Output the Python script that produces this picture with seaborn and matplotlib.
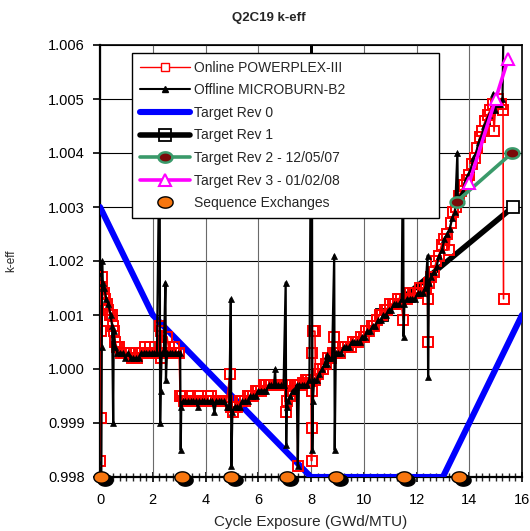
import numpy as np
import matplotlib
matplotlib.use("Agg")
import matplotlib.pyplot as plt
import matplotlib.transforms as mtransforms
from matplotlib.lines import Line2D
from matplotlib.ticker import MultipleLocator, FormatStrFormatter
import seaborn as sns

# ---------------- data ----------------
online_x = [0.00, 0.02, 0.04, 0.06, 0.08, 0.14, 0.20, 0.26, 0.32, 0.38, 0.44, 0.48, 0.52, 0.58, 0.64,
            0.72, 0.80, 0.90, 1.00, 1.10, 1.20, 1.30, 1.40, 1.50, 1.60, 1.70, 1.80, 1.90, 2.00, 2.10,
            2.20, 2.26, 2.30, 2.32, 2.38, 2.46, 2.54, 2.60, 2.70, 2.80, 2.90, 3.00, 3.04, 3.12, 3.20,
            3.30, 3.40, 3.50, 3.60, 3.70, 3.80, 3.90, 4.00, 4.10, 4.20, 4.30, 4.40, 4.50, 4.60, 4.70,
            4.80, 4.93, 4.96, 5.04, 5.12, 5.20, 5.30, 5.40, 5.50, 5.60, 5.70, 5.80, 5.90, 6.00, 6.10,
            6.20, 6.30, 6.40, 6.50, 6.60, 6.70, 6.80, 6.90, 7.00, 7.04, 7.10, 7.20, 7.30, 7.40, 7.48,
            7.50, 7.52, 7.60, 7.70, 7.80, 7.90, 8.00, 8.02, 8.03, 8.04, 8.05, 8.06, 8.15, 8.17, 8.25,
            8.35, 8.45, 8.55, 8.65, 8.75, 8.82, 8.86, 8.90, 9.00, 9.10, 9.20, 9.30, 9.40, 9.50, 9.60,
            9.70, 9.80, 9.90, 10.00, 10.10, 10.20, 10.30, 10.40, 10.50, 10.60, 10.70, 10.80, 10.90,
            11.00, 11.10, 11.20, 11.30, 11.40, 11.50, 11.55, 11.65, 11.75, 11.85, 11.95, 12.05, 12.15,
            12.25, 12.35, 12.42, 12.44, 12.46, 12.55, 12.65, 12.75, 12.85, 12.95, 13.05, 13.15, 13.23,
            13.30, 13.40, 13.50, 13.60, 13.70, 13.80, 13.90, 14.00, 14.10, 14.20, 14.30, 14.40, 14.50,
            14.60, 14.70, 14.80, 14.90, 14.94, 15.00, 15.10, 15.20, 15.28, 15.30]
online_y = [0.9983, 0.9991, 1.0007, 1.0017, 1.0015, 1.0014, 1.0013, 1.0012, 1.0011, 1.0010, 1.0010, 1.0008, 1.0007, 1.0005, 1.0004,
            1.0004, 1.0003, 1.0003, 1.0003, 1.0003, 1.0002, 1.0002, 1.0002, 1.0003, 1.0003, 1.0004, 1.0003, 1.0004, 1.0003, 1.0004,
            1.0003, 1.0008, 1.0007, 1.0002, 1.0003, 1.0004, 1.0006, 1.0004, 1.0003, 1.0004, 1.0003, 1.0003, 0.9995, 0.9995, 0.9994,
            0.9994, 0.9995, 0.9994, 0.9994, 0.9995, 0.9994, 0.9994, 0.9994, 0.9995, 0.9995, 0.9994, 0.9994, 0.9994, 0.9994, 0.9994,
            0.9994, 0.9999, 0.9993, 0.9992, 0.9993, 0.9993, 0.9994, 0.9994, 0.9994, 0.9995, 0.9995, 0.9995, 0.9996, 0.9996, 0.9996,
            0.9997, 0.9997, 0.9997, 0.9997, 0.9997, 0.9997, 0.9997, 0.9997, 0.9997, 0.9992, 0.9994, 0.9995, 0.9996, 0.9997, 0.9997,
            0.9982, 0.9997, 0.9997, 0.99975, 0.9998, 0.9998, 0.9998, 0.9983, 0.9989, 0.9996, 1.0003, 1.0007, 1.0007, 0.9998, 0.9999,
            1.0000, 1.0000, 1.0001, 1.0002, 1.0002, 1.0003, 1.0006, 1.0003, 1.0003, 1.0003, 1.0004, 1.0004, 1.0004, 1.0004, 1.0005,
            1.0005, 1.0005, 1.0006, 1.0006, 1.0007, 1.0007, 1.0008, 1.0008, 1.0009, 1.0010, 1.0010, 1.0011, 1.0011,
            1.0012, 1.0012, 1.0012, 1.0013, 1.0013, 1.0009, 1.0013, 1.0013, 1.0014, 1.0014, 1.0014, 1.0014, 1.0015,
            1.0015, 1.0015, 1.0013, 1.0005, 1.0016, 1.0017, 1.0018, 1.0020, 1.0021, 1.0023, 1.0024, 1.0025, 1.0022,
            1.0027, 1.0029, 1.0030, 1.0032, 1.0033, 1.0034, 1.0035, 1.0036, 1.0038, 1.0039, 1.0041, 1.0043, 1.0044,
            1.0046, 1.0047, 1.0048, 1.0049, 1.0044, 1.0049, 1.0050, 1.0049, 1.0048, 1.0013]

offline_x = [0.05, 0.07, 0.08, 0.10, 0.16, 0.24, 0.32, 0.40, 0.46, 0.50, 0.52, 0.58, 0.66, 0.76, 0.86,
             0.96, 1.06, 1.16, 1.26, 1.36, 1.46, 1.56, 1.66, 1.76, 1.86, 1.96, 2.06, 2.16, 2.26, 2.28,
             2.30, 2.34, 2.42, 2.48, 2.50, 2.54, 2.64, 2.74, 2.84, 2.94, 3.04, 3.06, 3.08, 3.14, 3.24,
             3.34, 3.44, 3.54, 3.64, 3.70, 3.76, 3.86, 3.96, 4.06, 4.16, 4.26, 4.34, 4.40, 4.50, 4.60,
             4.70, 4.80, 4.90, 4.96, 4.98, 5.02, 5.10, 5.20, 5.30, 5.40, 5.50, 5.60, 5.70, 5.80, 5.90,
             6.00, 6.10, 6.20, 6.30, 6.40, 6.50, 6.60, 6.64, 6.66, 6.76, 6.86, 6.96, 7.04, 7.06, 7.08,
             7.14, 7.22, 7.30, 7.38, 7.46, 7.50, 7.54, 7.64, 7.74, 7.84, 7.94, 8.03, 8.05, 8.07, 8.12,
             8.22, 8.32, 8.42, 8.52, 8.60, 8.62, 8.70, 8.80, 8.88, 8.90, 8.94, 9.04, 9.14, 9.24, 9.34,
             9.44, 9.54, 9.64, 9.74, 9.84, 9.94, 10.04, 10.14, 10.24, 10.34, 10.44, 10.54, 10.64, 10.74,
             10.84, 10.94, 11.04, 11.14, 11.24, 11.34, 11.44, 11.49, 11.51, 11.54, 11.64, 11.74, 11.84,
             11.94, 12.04, 12.14, 12.24, 12.34, 12.42, 12.44, 12.47, 12.56, 12.66, 12.76, 12.86, 12.96,
             13.06, 13.16, 13.26, 13.36, 13.46, 13.55, 13.57, 13.66, 13.76, 13.86, 13.96, 14.06, 14.16,
             14.26, 14.36, 14.46, 14.56, 14.66, 14.76, 14.86, 14.90, 14.96, 15.06, 15.16, 15.26, 15.33]
offline_y = [0.9980, 1.0004, 1.0020, 1.0016, 1.0015, 1.0013, 1.0012, 1.0010, 1.0008, 0.9990, 1.0007, 1.0004, 1.0003, 1.0003, 1.0003,
             1.0002, 1.0003, 1.0002, 1.0002, 1.0002, 1.0002, 1.0003, 1.0003, 1.0003, 1.0003, 1.0003, 1.0003, 1.0003, 1.0045, 0.9990,
             0.9996, 1.0003, 1.0003, 1.0016, 0.9998, 1.0003, 1.0003, 1.0003, 1.0003, 1.0003, 1.0003, 0.9985, 0.9993, 0.9994, 0.9994,
             0.9994, 0.9994, 0.9994, 0.9994, 0.9993, 0.9994, 0.9994, 0.9994, 0.9994, 0.9994, 0.9994, 0.9992, 0.9994, 0.9994, 0.9994,
             0.9994, 0.9993, 0.9993, 1.0013, 0.9982, 0.9992, 0.9993, 0.9993, 0.9993, 0.9994, 0.9994, 0.9994, 0.9995, 0.9995, 0.9995,
             0.9996, 0.9996, 0.9996, 0.9996, 0.9997, 0.9997, 0.9997, 1.0000, 0.9997, 0.9997, 0.9997, 0.9997, 1.0016, 0.9986, 0.9993,
             0.9994, 0.9995, 0.9996, 0.9996, 0.9997, 0.9982, 0.9997, 0.9997, 0.9997, 0.9997, 0.9998, 1.0075, 0.9985, 0.9994, 0.9998,
             0.9998, 0.9999, 1.0000, 1.0001, 1.00025, 1.0001, 1.0002, 1.0002, 1.0021, 0.9985, 1.0003, 1.0003, 1.0003, 1.0004, 1.0004,
             1.0004, 1.0005, 1.0005, 1.0005, 1.0005, 1.0006, 1.0006, 1.0007, 1.0007, 1.0008, 1.0008, 1.0009, 1.0009, 1.0010,
             1.0010, 1.0011, 1.0011, 1.0012, 1.0012, 1.0012, 1.0013, 1.0045, 1.0006, 1.0012, 1.0013, 1.0013, 1.0013,
             1.0013, 1.0014, 1.0014, 1.0014, 1.0015, 1.0021, 0.99985, 1.0016, 1.0017, 1.0018, 1.0019, 1.0021, 1.0022,
             1.0024, 1.0025, 1.0026, 1.0028, 1.0029, 1.0040, 1.0031, 1.0032, 1.0033, 1.0035, 1.0036, 1.0037, 1.0039,
             1.0040, 1.0042, 1.0043, 1.0045, 1.0046, 1.0047, 1.0048, 1.0051, 1.0048, 1.0049, 1.0049, 1.0050, 1.0075]

rev0_x = [0.0, 2.0, 8.0, 13.0, 16.0]
rev0_y = [1.0030, 1.0010, 0.9980, 0.9980, 1.0010]

rev1_x = [10.7, 15.66]
rev1_y = [1.0010, 1.0030]

rev2_x = [13.52, 15.62]
rev2_y = [1.0031, 1.0040]

rev3_x = [14.0, 15.0, 15.48]
rev3_y = [1.00345, 1.0050, 1.00575]

seq_x = [0.05, 3.1, 4.97, 7.08, 8.95, 11.52, 13.62]
seq_y = [0.998, 0.998, 0.998, 0.998, 0.998, 0.998, 0.998]

labels = ["Online POWERPLEX-III", "Offline MICROBURN-B2", "Target Rev 0", "Target Rev 1",
          "Target Rev 2 - 12/05/07", "Target Rev 3 - 01/02/08", "Sequence Exchanges"]
x_ticks = [0, 2, 4, 6, 8, 10, 12, 14, 16]
y_ticks = [0.998, 0.999, 1.000, 1.001, 1.002, 1.003, 1.004, 1.005, 1.006]

# ---------------- style ----------------
sns.set_style("white")
plt.rcParams['font.family'] = ['Liberation Sans', 'DejaVu Sans']

fig = plt.figure(figsize=(5.30, 5.31), dpi=100)
ax = fig.add_axes([100/530, 1-477/531, 422/530, 432/531])

_t = np.linspace(0, 2*np.pi, 41)
ellipse = list(zip(1.35*np.cos(_t), np.sin(_t)))

ORANGE = '#F7760F'
GREEN = '#3A9A6A'
MAROON = '#7A0A0A'

sns.lineplot(x=rev0_x, y=rev0_y, sort=False, estimator=None, color='#0000FF', lw=4.4,
             zorder=3, legend=False, ax=ax)
sns.lineplot(x=rev1_x, y=rev1_y, sort=False, estimator=None, color='black', lw=4.0,
             marker='s', ms=8, mfc='white', mec='black', mew=1.3, zorder=3.5, legend=False, ax=ax)
sns.lineplot(x=online_x, y=online_y, sort=False, estimator=None, color='#FF0000', lw=1.2,
             marker='s', ms=6.5, mfc='none', mec='#FF0000', mew=1.4, zorder=4, legend=False, ax=ax)
sns.lineplot(x=offline_x, y=offline_y, sort=False, estimator=None, color='black', lw=1.6,
             marker='^', ms=5, mfc='black', mec='black', mew=0.5, zorder=5, legend=False, ax=ax)
sns.lineplot(x=rev2_x, y=rev2_y, sort=False, estimator=None, color=GREEN, lw=2.6,
             marker=ellipse, ms=10, mfc=MAROON, mec=GREEN, mew=1.8, zorder=6, legend=False, ax=ax)
sns.lineplot(x=rev3_x, y=rev3_y, sort=False, estimator=None, color='#FF00FF', lw=2.6,
             marker='^', ms=9, mfc='white', mec='#FF00FF', mew=1.5, zorder=6.5, legend=False, ax=ax)

shadow_tr = mtransforms.offset_copy(ax.transData, fig=fig, x=3.5, y=-3.0, units='dots')
sns.lineplot(x=seq_x, y=seq_y, sort=False, estimator=None, color='black', linestyle='',
             marker=ellipse, ms=11, mfc='black', mec='black', mew=1.0, zorder=7,
             transform=shadow_tr, clip_on=False, legend=False, ax=ax)
sns.lineplot(x=seq_x, y=seq_y, sort=False, estimator=None, color=ORANGE, linestyle='',
             marker=ellipse, ms=11, mfc=ORANGE, mec='black', mew=1.0, zorder=8,
             clip_on=False, legend=False, ax=ax)

ax.set_xlim(0, 16)
ax.set_ylim(0.998, 1.006)
ax.set_xticks(x_ticks)
ax.set_yticks(y_ticks)
ax.yaxis.set_major_formatter(FormatStrFormatter('%.3f'))
ax.xaxis.set_minor_locator(MultipleLocator(0.25))

ax.grid(False)
for yv in y_ticks:
    ax.axhline(yv, color='black', lw=0.8, zorder=1)
for xv in x_ticks:
    ax.axvline(xv, color='#6a6a6a', lw=0.8, zorder=1)

for s in ax.spines.values():
    s.set_color('black')
    s.set_linewidth(1.2)
ax.spines['left'].set_linewidth(1.6)
ax.spines['bottom'].set_linewidth(1.6)
ax.spines['bottom'].set_zorder(2)

ax.tick_params(axis='x', which='major', direction='inout', length=7, width=1.2, pad=8,
               labelsize=10.5, colors='black', bottom=True)
ax.tick_params(axis='x', which='minor', direction='inout', length=6, width=1.0, bottom=True)
ax.tick_params(axis='y', which='major', direction='out', length=5, width=1.2, pad=6,
               labelsize=10.5, colors='black', left=True)

ax.set_xlabel("Cycle Exposure (GWd/MTU)", fontsize=11, labelpad=6)
ax.set_ylabel("k-eff", fontsize=8.5)
ax.yaxis.set_label_coords(-0.196, 0.5)
fig.text(0.508, 0.967, "Q2C19 k-eff", ha='center', va='center', fontsize=9.5, fontweight='bold')

handles = [
    Line2D([], [], color='#FF0000', lw=1.0, marker='s', ms=5.5, mfc='white', mec='#FF0000', mew=1.0),
    Line2D([], [], color='black', lw=1.5, marker='^', ms=4, mfc='black', mec='black'),
    Line2D([], [], color='#0000FF', lw=4.4),
    Line2D([], [], color='black', lw=4.0, marker='s', ms=8, mfc='none', mec='black', mew=1.3),
    Line2D([], [], color=GREEN, lw=2.6, marker=ellipse, ms=10, mfc=MAROON, mec=GREEN, mew=1.8),
    Line2D([], [], color='#FF00FF', lw=2.6, marker='^', ms=9, mfc='white', mec='#FF00FF', mew=1.5),
    Line2D([], [], color=ORANGE, lw=0, marker=ellipse, ms=11, mfc=ORANGE, mec='black', mew=1.0),
]
leg = ax.legend(handles, labels, loc='upper left',
                bbox_to_anchor=((132-100)/422, (477-223)/432, (439-132)/422, (223-53)/432),
                mode='expand', borderaxespad=0, fontsize=10, handlelength=3.6, handletextpad=0.3,
                labelspacing=0.62, borderpad=0.55, fancybox=False, framealpha=1, edgecolor='black',
                facecolor='white')
leg.get_frame().set_linewidth(1.0)
leg.set_zorder(20)

fig.savefig("out.png", dpi=100)
